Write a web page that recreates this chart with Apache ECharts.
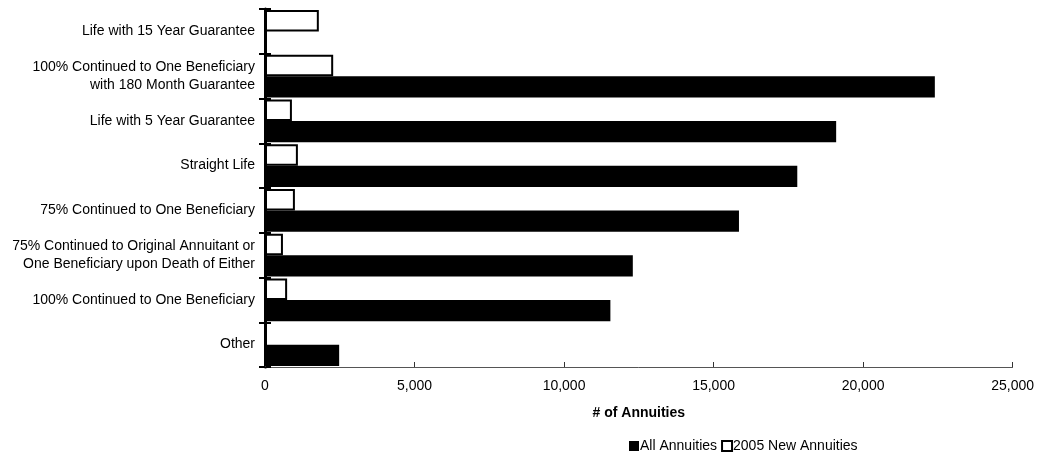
<!DOCTYPE html>
<html><head><meta charset="utf-8">
<script src="https://cdn.jsdelivr.net/npm/echarts@6/dist/echarts.min.js"></script>
<style>html,body{margin:0;padding:0;background:#fff}#c{width:1037px;height:455px}</style>
</head><body><div id="c"></div>
<script>
const categories = [
  "Life with 15 Year Guarantee",
  "100% Continued to One Beneficiary\nwith 180 Month Guarantee",
  "Life with 5 Year Guarantee",
  "Straight Life",
  "75% Continued to One Beneficiary",
  "75% Continued to Original Annuitant or\nOne Beneficiary upon Death of Either",
  "100% Continued to One Beneficiary",
  "Other"
];
const allAnnuities = [0, 22400, 19100, 17800, 15850, 12300, 11550, 2480];
const newAnnuities2005 = [1800, 2280, 900, 1100, 1000, 600, 740, 0];
const xTicks = [0, 5000, 10000, 15000, 20000, 25000];

const font = "'Liberation Sans', Arial, sans-serif";
const chart = echarts.init(document.getElementById('c'), null, {renderer: 'canvas'});
chart.setOption({
  animation: false,
  textStyle: {fontFamily: font},
  grid: {left: 265, right: 24, top: 9, bottom: 88, containLabel: false},
  legend: {
    data: ['All Annuities', '2005 New Annuities'],
    left: 624, top: 434,
    itemWidth: 10, itemHeight: 10, itemGap: 4,
    textStyle: {fontFamily: font, fontSize: 14, color: '#000', padding: [0, 0, 0, -4]},
    icon: 'rect'
  },
  xAxis: {
    type: 'value', min: xTicks[0], max: xTicks[xTicks.length - 1], interval: 5000,
    name: '# of Annuities', nameLocation: 'middle', nameGap: 39,
    nameTextStyle: {fontFamily: font, fontSize: 14, fontWeight: 'bold', color: '#000'},
    axisLine: {show: true, lineStyle: {color: '#555', width: 1}},
    axisTick: {show: true, inside: true, length: 5, lineStyle: {color: '#333'}},
    splitLine: {show: false},
    axisLabel: {fontFamily: font, fontSize: 14, color: '#000', margin: 12,
      formatter: v => v.toLocaleString('en-US')}
  },
  yAxis: [{
    type: 'category', data: categories, inverse: true,
    axisLine: {show: true, lineStyle: {color: '#000', width: 3}},
    axisTick: {show: true, length: 6, lineStyle: {color: '#000', width: 2}},
    axisLabel: {fontFamily: font, fontSize: 14, color: '#000', margin: 10, lineHeight: 18}
  }, {
    type: 'category', data: categories, inverse: true, position: 'left',
    axisLine: {show: false},
    axisTick: {show: true, inside: true, length: 6, lineStyle: {color: '#000', width: 2}},
    axisLabel: {show: false}
  }],
  series: [{
    name: '2005 New Annuities', type: 'bar', data: newAnnuities2005,
    barGap: '0%', barCategoryGap: '4%',
    itemStyle: {color: '#fff', borderColor: '#000', borderWidth: 2}
  }, {
    name: 'All Annuities', type: 'bar', data: allAnnuities,
    barGap: '0%', barCategoryGap: '4%',
    itemStyle: {color: '#000'}
  }]
});
</script></body></html>
